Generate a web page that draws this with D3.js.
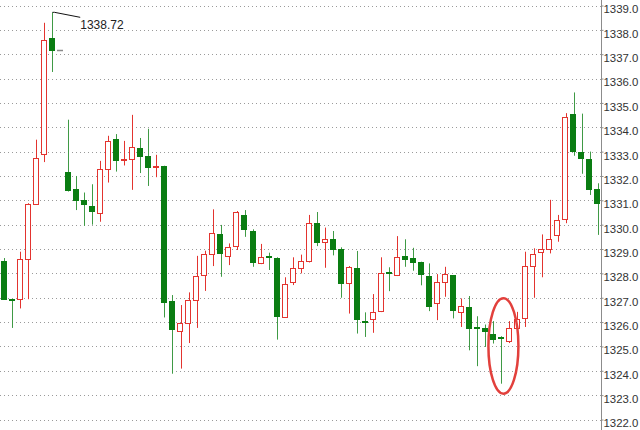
<!DOCTYPE html>
<html><head><meta charset="utf-8">
<script src="https://cdn.jsdelivr.net/npm/d3@7"></script>
<style>html,body{margin:0;padding:0;background:#fff;}svg{display:block;}</style>
</head><body>
<svg id="c" width="640" height="430"></svg>
<script>
const categories = d3.range(75).map(i => "K" + (i + 1));
const openV  = [1328.50,1326.95,1326.95,1328.60,1330.84,1332.87,1337.67,1337.19,1332.18,1331.46,1331.02,1330.77,1330.49,1332.29,1333.51,1332.63,1332.69,1333.14,1332.80,1332.38,1332.42,1326.86,1325.67,1325.97,1326.90,1327.93,1328.79,1329.62,1328.74,1329.15,1330.40,1329.75,1328.41,1328.70,1328.64,1326.21,1327.65,1328.21,1328.52,1330.06,1329.28,1329.40,1329.00,1327.59,1328.21,1326.03,1326.11,1326.46,1328.07,1327.93,1328.71,1328.62,1328.48,1327.89,1326.77,1327.65,1327.93,1326.40,1326.63,1325.79,1325.74,1325.50,1325.40,1325.21,1325.74,1326.19,1328.31,1328.86,1328.99,1329.58,1330.26,1334.56,1332.98,1332.70,1331.47];
const highV  = [1328.63,1326.95,1328.89,1330.88,1333.49,1338.29,1338.72,1337.19,1334.31,1332.00,1331.32,1331.66,1332.62,1333.65,1333.72,1333.44,1334.51,1333.56,1333.94,1332.87,1332.42,1327.11,1326.70,1327.22,1328.72,1328.93,1330.63,1329.99,1329.23,1330.56,1330.60,1329.81,1329.21,1328.85,1328.66,1327.84,1328.66,1328.77,1330.40,1330.52,1329.88,1329.74,1329.07,1328.30,1328.92,1326.40,1327.15,1328.66,1328.25,1329.53,1329.40,1329.05,1328.48,1328.41,1327.97,1328.27,1327.93,1326.97,1327.07,1326.24,1325.90,1326.04,1325.42,1326.04,1326.42,1328.89,1329.03,1329.60,1331.02,1330.40,1334.58,1335.43,1334.56,1333.00,1331.70];
const lowV   = [1326.94,1325.76,1326.56,1326.94,1330.84,1332.57,1336.27,1337.19,1331.36,1330.60,1329.95,1330.00,1330.12,1331.73,1332.18,1332.43,1331.43,1332.12,1331.59,1331.95,1326.19,1323.88,1324.09,1325.14,1325.76,1327.28,1328.30,1327.86,1328.34,1328.96,1329.50,1328.27,1328.38,1328.14,1325.28,1326.19,1327.52,1328.00,1328.45,1329.12,1328.23,1328.74,1327.00,1326.35,1325.53,1325.39,1325.56,1326.41,1327.27,1327.89,1328.27,1328.11,1327.51,1326.45,1326.08,1327.04,1326.15,1325.80,1324.84,1324.19,1324.98,1325.12,1323.47,1325.14,1325.67,1325.80,1327.00,1327.84,1328.82,1329.30,1330.06,1332.83,1332.09,1331.22,1329.58];
const closeV = [1326.94,1326.90,1328.58,1330.85,1332.73,1337.57,1337.19,1337.19,1331.43,1331.02,1330.84,1330.56,1332.29,1333.44,1332.63,1332.69,1333.17,1332.80,1332.35,1332.42,1326.83,1325.71,1325.98,1326.90,1327.89,1328.79,1329.67,1328.82,1329.10,1330.54,1329.81,1328.48,1328.66,1328.67,1326.24,1327.57,1328.21,1328.51,1330.08,1329.26,1329.40,1328.99,1327.61,1328.25,1326.10,1326.00,1326.40,1328.00,1328.04,1328.66,1328.60,1328.47,1328.00,1326.67,1327.63,1327.96,1326.49,1326.65,1325.76,1325.74,1325.60,1325.28,1325.37,1325.74,1326.11,1328.31,1328.79,1329.00,1329.42,1330.19,1334.44,1333.03,1332.73,1331.46,1330.88];
const tickValues = d3.range(1322, 1340, 1);
const peakLabel = "1338.72";
const peakIndex = 6;
const markerIndex = 7;
const circledIndex = 62;

const data = categories.map((c, i) => ({c, i, o: openV[i], h: highV[i], l: lowV[i], cl: closeV[i]}));

const svg = d3.select("#c");
const W = 640, H = 430;
const plotRight = 601;
const x = d3.scaleBand().domain(categories).range([0, 601.7]).paddingInner(0.2).paddingOuter(0.1);
const y = d3.scaleLinear().domain([1322, 1339]).range([419.5, 5.5]);

const RED = "#e3342f", GREEN = "#0a7d12", GREENW = "#3f9a45", GRAY = "#8a8a8a";

// grid
svg.append("g").selectAll("line").data(tickValues).join("line")
  .attr("x1", 0).attr("x2", plotRight)
  .attr("y1", d => Math.round(y(d)) + 0.5).attr("y2", d => Math.round(y(d)) + 0.5)
  .attr("stroke", "#9a9a9a").attr("stroke-width", 1).attr("stroke-dasharray", "1,3");

// axis
const axis = d3.axisRight(y).tickValues(tickValues).tickFormat(d3.format(".1f")).tickSize(2).tickPadding(0);
const ag = svg.append("g").attr("transform", `translate(${plotRight + 0.5},0)`).call(axis);
ag.select(".domain").attr("stroke", "#8c8c8c").attr("d", `M0,0V${H}`);
ag.selectAll(".tick line").attr("stroke", "#8c8c8c");
ag.selectAll(".tick text").attr("font-family", "'Liberation Sans', Arial, sans-serif").attr("font-size", 11.4)
  .attr("fill", "#333").attr("dy", "0.65em");

const bw = x.bandwidth();
const cx = d => Math.round(x(d.c) + bw / 2) + 0.5;

const candles = data.filter(d => d.i !== markerIndex);
const g = svg.append("g");
// wicks
g.selectAll("line.w").data(candles).join("line").attr("class", "w")
  .attr("x1", cx).attr("x2", cx)
  .attr("y1", d => y(d.h)).attr("y2", d => y(d.l))
  .attr("stroke", d => d.cl > d.o ? RED : GREENW).attr("stroke-width", 1);
// bodies
g.selectAll("rect.b").data(candles).join("rect").attr("class", "b")
  .attr("x", d => Math.round(x(d.c)) + 0.5)
  .attr("width", Math.round(bw) - 1)
  .attr("y", d => Math.round(y(Math.max(d.o, d.cl))) + 0.5)
  .attr("height", d => Math.max(1, Math.round(Math.abs(y(d.o) - y(d.cl)))))
  .attr("fill", d => d.cl > d.o ? "#fff" : GREEN)
  .attr("stroke", d => d.cl > d.o ? RED : GREEN).attr("stroke-width", 1);

// gray marker dash
const m = data[markerIndex];
svg.append("line").attr("x1", Math.round(x(m.c))).attr("x2", Math.round(x(m.c) + bw))
  .attr("y1", Math.round(y(m.cl)) + 0.5).attr("y2", Math.round(y(m.cl)) + 0.5)
  .attr("stroke", GRAY).attr("stroke-width", 1.5);

// peak annotation
const p = data[peakIndex];
const px = cx(p), py = y(p.h);
const lx = x(categories[peakIndex + 3]) + bw / 2 + 4;
svg.append("path").attr("d", `M${px},${py}H${px + 2}L${lx},${py + 5}`)
  .attr("fill", "none").attr("stroke", "#111").attr("stroke-width", 1);
svg.append("text").attr("x", lx).attr("y", py + 17).text(peakLabel)
  .attr("font-family", "'Liberation Sans', Arial, sans-serif").attr("font-size", 12).attr("fill", "#222");

// red ellipse
const e = data[circledIndex];
svg.append("ellipse").attr("cx", x(e.c) + bw / 2 + 2).attr("cy", y(1325.02))
  .attr("rx", 15).attr("ry", (y(1323.06) - y(1326.98)) / 2)
  .attr("fill", "none").attr("stroke", "#e2403c").attr("stroke-width", 2.5);
</script>
</body></html>
